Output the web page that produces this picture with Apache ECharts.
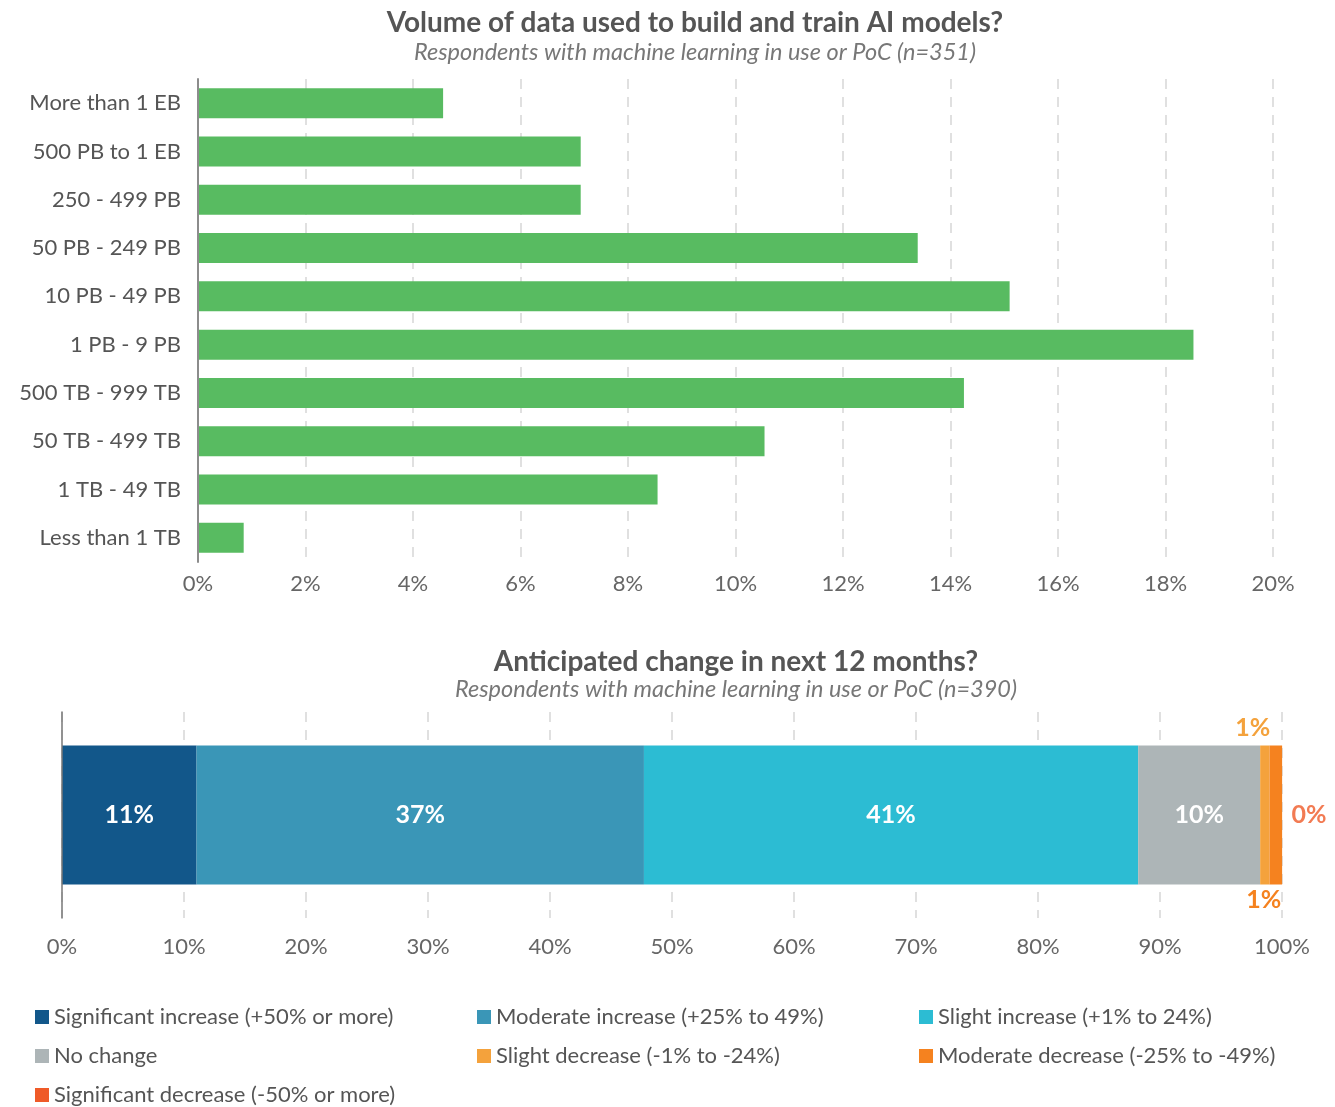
<!DOCTYPE html>
<html>
<head>
<meta charset="utf-8">
<style>
  html, body { margin: 0; padding: 0; background: #ffffff; }
  #chart { width: 1335px; height: 1107px; }
</style>
<script src="https://cdn.jsdelivr.net/npm/echarts@6/dist/echarts.min.js"></script>
</head>
<body>
<div id="chart"></div>
<script>
// Volume of data used for AI models (share of respondents, n=351)
const volumeCategories = [
  'More than 1 EB', '500 PB to 1 EB', '250 - 499 PB', '50 PB - 249 PB', '10 PB - 49 PB',
  '1 PB - 9 PB', '500 TB - 999 TB', '50 TB - 499 TB', '1 TB - 49 TB', 'Less than 1 TB'
];
const volumeShares = [4.56, 7.12, 7.12, 13.39, 15.10, 18.52, 14.25, 10.54, 8.55, 0.85];
const volumeTicks = [0, 2, 4, 6, 8, 10, 12, 14, 16, 18, 20];

// Anticipated change in next 12 months (share of respondents, n=390)
const changeNames = [
  'Significant increase (+50% or more)', 'Moderate increase (+25% to 49%)', 'Slight increase (+1% to 24%)',
  'No change', 'Slight decrease (-1% to -24%)', 'Moderate decrease (-25% to -49%)', 'Significant decrease (-50% or more)'
];
const changeShares = [11.03, 36.67, 40.51, 10.0, 0.77, 1.03, 0];
const changeColors = ['#12578a', '#3a96b7', '#2cbcd3', '#adb5b7', '#f4a23c', '#f5821f', '#ef5a28'];
const changeTicks = [0, 10, 20, 30, 40, 50, 60, 70, 80, 90, 100];

// Legend grid: column (x of swatch) and row (centre y) for each change category
const legendColumns = [35, 477, 919, 35, 477, 919, 35];
const legendRows = [1017, 1017, 1017, 1056, 1056, 1056, 1095];

const FONT = 'Lato, "Noto Sans", sans-serif';
const pct = v => Math.round(v) + '%';

// Label placement per change segment: wide segments carry a white label inside,
// the slim decrease segments get coloured labels above and below.
const changeLabels = [
  { show: true, position: 'inside', color: '#ffffff' },
  { show: true, position: 'inside', color: '#ffffff' },
  { show: true, position: 'inside', color: '#ffffff' },
  { show: true, position: 'inside', color: '#ffffff' },
  { show: true, position: 'top', distance: 5, offset: [-12, 0], color: '#f4a23c' },
  { show: true, position: 'bottom', distance: 3, offset: [-12, 0], color: '#f5821f' },
  { show: false }
];

const gridLine = { show: true, lineStyle: { color: '#d6d6d6', type: [10, 8], width: 1.5 } };
const stackTotal = changeShares.reduce((a, b) => a + b, 0);

const chart = echarts.init(document.getElementById('chart'), null, { renderer: 'canvas' });

const legends = changeNames.map((name, i) => ({
  data: [name], left: legendColumns[i], top: legendRows[i] - 11, padding: 0,
  itemWidth: 14, itemHeight: 14, icon: 'rect', selectedMode: false,
  textStyle: { fontFamily: FONT, fontSize: 22, color: '#555555' }
}));

chart.setOption({
  animation: false,
  title: [
    {
      text: 'Volume of data used to build and train AI models?',
      subtext: 'Respondents with machine learning in use or PoC (n=351)',
      left: 690, textAlign: 'center', top: 4, itemGap: 4,
      textStyle: { fontFamily: FONT, fontSize: 28, fontWeight: 'bold', color: '#555555' },
      subtextStyle: { fontFamily: FONT, fontSize: 23.5, fontStyle: 'italic', color: '#777777' }
    },
    {
      text: 'Anticipated change in next 12 months?',
      subtext: 'Respondents with machine learning in use or PoC (n=390)',
      left: 731, textAlign: 'center', top: 643, itemGap: 2,
      textStyle: { fontFamily: FONT, fontSize: 28, fontWeight: 'bold', color: '#555555' },
      subtextStyle: { fontFamily: FONT, fontSize: 23.5, fontStyle: 'italic', color: '#777777' }
    }
  ],
  legend: legends,
  grid: [
    { left: 198, right: 62, top: 79, height: 483, containLabel: false },
    { left: 62, right: 53, top: 712, height: 206, containLabel: false }
  ],
  xAxis: [
    {
      gridIndex: 0, type: 'value', min: volumeTicks[0], max: volumeTicks[volumeTicks.length - 1], interval: 2,
      axisLine: { show: false }, axisTick: { show: false }, splitLine: gridLine,
      axisLabel: { formatter: v => v + '%', fontFamily: FONT, fontSize: 22, color: '#666666', margin: 11 }
    },
    {
      gridIndex: 1, type: 'value', min: changeTicks[0], max: changeTicks[changeTicks.length - 1], interval: 10,
      axisLine: { show: false }, axisTick: { show: false }, splitLine: gridLine,
      axisLabel: { formatter: v => v + '%', fontFamily: FONT, fontSize: 22, color: '#666666', margin: 18 }
    }
  ],
  yAxis: [
    {
      gridIndex: 0, type: 'category', data: volumeCategories, inverse: true,
      axisLine: { show: true, lineStyle: { color: '#8c8c8c', width: 2 } }, axisTick: { show: false },
      axisLabel: { fontFamily: FONT, fontSize: 22, color: '#555555', margin: 17 }, z: 5
    },
    {
      gridIndex: 1, type: 'category', data: [''],
      axisLine: { show: true, lineStyle: { color: '#777777', width: 1.5 } }, axisTick: { show: false },
      axisLabel: { show: false }, z: 5
    }
  ],
  series: [
    {
      name: 'Volume', type: 'bar', xAxisIndex: 0, yAxisIndex: 0,
      data: volumeShares, barWidth: 30,
      itemStyle: { color: '#58bb61' }
    }
  ].concat(changeNames.map((name, i) => ({
    name: name, type: 'bar', stack: 'change', xAxisIndex: 1, yAxisIndex: 1,
    data: [changeShares[i]], barWidth: 139, clip: false,
    itemStyle: { color: changeColors[i] },
    label: Object.assign({ formatter: p => pct(p.value), fontFamily: FONT, fontWeight: 'bold', fontSize: 25 }, changeLabels[i])
  }))).concat([
    {
      // value label for the last (zero-width) segment, placed at the end of the stack
      name: 'Significant decrease label', type: 'scatter', xAxisIndex: 1, yAxisIndex: 1,
      symbol: 'rect', symbolSize: 1, silent: true, clip: false,
      itemStyle: { color: 'rgba(0,0,0,0)' },
      data: [[stackTotal, 0]],
      label: {
        show: true, position: 'right', distance: 9,
        formatter: () => pct(changeShares[6]),
        fontFamily: FONT, fontWeight: 'bold', fontSize: 25, color: '#ef5a28'
      }
    }
  ])
});
</script>
</body>
</html>
